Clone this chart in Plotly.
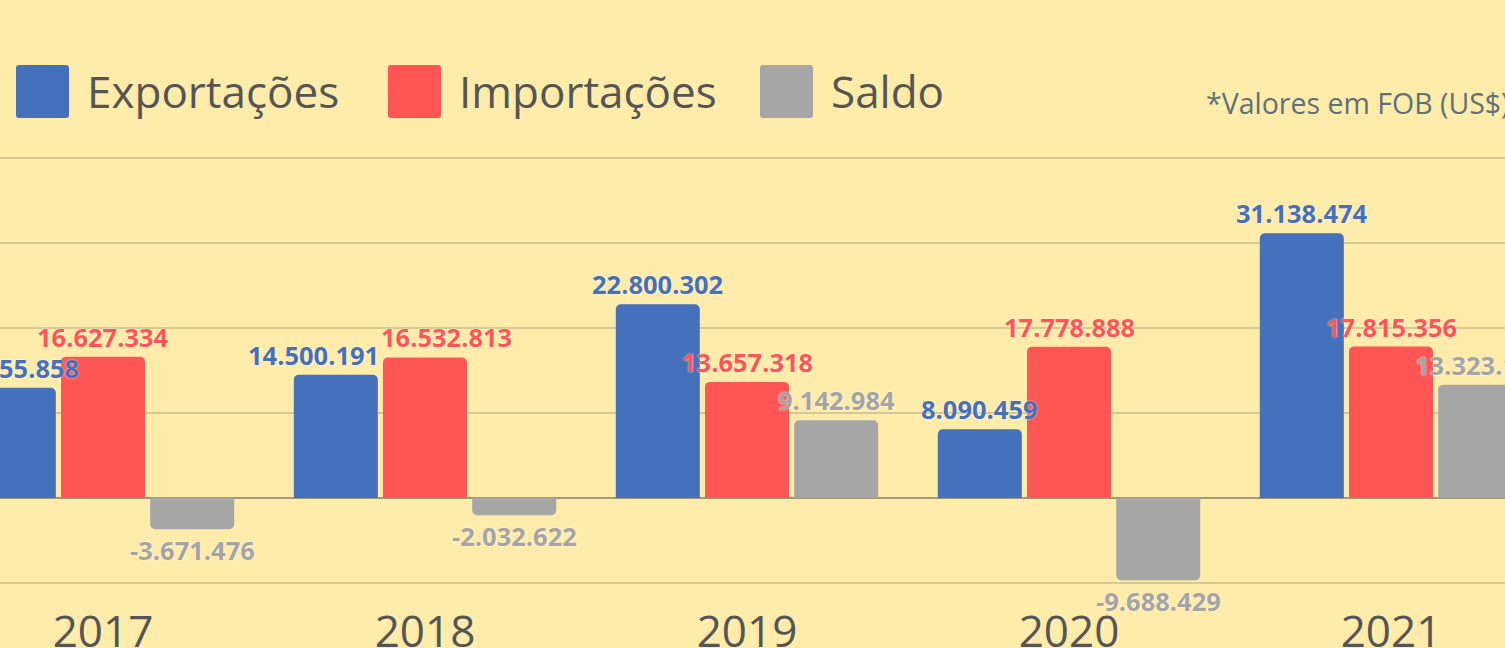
import plotly.graph_objects as go

# ---- data ----
anos = ["2017", "2018", "2019", "2020", "2021"]
exportacoes = [12955858, 14500191, 22800302, 8090459, 31138474]
importacoes = [16627334, 16532813, 13657318, 17778888, 17815356]
saldo = [-3671476, -2032622, 9142984, -9688429, 13323118]

series_names = ["Exportações", "Importações", "Saldo"]
bar_colors = ["#4470BC", "#FF5555", "#A6A6A6"]
label_colors = ["#4670BA", "#FF5555", "#A4A4A4"]
nota = "*Valores em FOB (US$)"

W, H = 1505, 648
M_T, M_B = 150, 46
FONT = "Open Sans"
BG = "#FFECAA"
LABEL_SIZE = 25.5
BARGAP = 0.169
BARGROUPGAP = 0.058
Y_RANGE = [-12.235e6, 40.94e6]
C0, STEP = 103, 322
X_RANGE = [-C0 / STEP, (W - C0) / STEP]


def fmt(v):
    return f"{v:,}".replace(",", ".")


all_series = [exportacoes, importacoes, saldo]

fig = go.Figure()
for name, vals, bc in zip(series_names, all_series, bar_colors):
    fig.add_trace(go.Bar(
        x=anos, y=vals, name=name,
        marker=dict(color=bc, line=dict(width=0)),
        showlegend=False,
        hovertemplate="%{x} " + name + ": %{y:,.0f}<extra></extra>",
    ))

plot_h = H - M_T - M_B


def py2paper(py):
    return (H - M_B - py) / plot_h


def px2paper(px):
    return px / W


def val2py(v):
    return M_T + (Y_RANGE[1] - v) / (Y_RANGE[1] - Y_RANGE[0]) * plot_h


def xd2px(xd):
    return (xd - X_RANGE[0]) / (X_RANGE[1] - X_RANGE[0]) * W


def text_w(s, size):
    w = 0
    for ch in s:
        w += 0.572 if ch.isdigit() else (0.28 if ch == "." else 0.32)
    return w * size


# ---- value labels with simple collision avoidance ----
slot = (1 - BARGAP) / 3
labels = []
for k, (vals, lc) in enumerate(zip(all_series, label_colors)):
    for i, v in enumerate(vals):
        xd = i + (k - 1) * slot
        s = fmt(v)
        bar_end = val2py(v)
        cy = bar_end - 17 if v >= 0 else bar_end + 17
        labels.append(dict(xd=xd, v=v, s=s, c=lc, cx=xd2px(xd), cy=cy,
                           w=text_w(s, LABEL_SIZE), shift=0.0))

LH = 0.9 * LABEL_SIZE
for _ in range(20):
    moved = False
    for a in range(len(labels)):
        for b in range(len(labels)):
            A, B = labels[a], labels[b]
            ax, bx = A["cx"] + A["shift"], B["cx"] + B["shift"]
            if a == b or ax > bx or (ax == bx and a > b):
                continue
            if abs(A["cy"] - B["cy"]) >= LH:
                continue
            ov = (A["w"] + B["w"]) / 2 + 2 - (bx - ax)
            if ov > 0.5:
                A["shift"] -= ov / 2
                B["shift"] += ov / 2
                moved = True
    if not moved:
        break

annotations = []
for L in labels:
    pos = L["v"] >= 0
    annotations.append(dict(
        x=L["xd"], y=L["v"], xref="x", yref="y", text=L["s"], showarrow=False,
        xanchor="center", yanchor="bottom" if pos else "top",
        xshift=L["shift"], yshift=1 if pos else -2,
        font=dict(family=FONT, size=LABEL_SIZE, color=L["c"], weight="bold",
                  shadow="0px 0px 2px rgba(255,255,255,0.9)"),
    ))


def rounded_rect(x0, y0, x1, y1, r):
    X = px2paper
    Y = py2paper
    return (f"M{X(x0 + r)},{Y(y0)} L{X(x1 - r)},{Y(y0)} Q{X(x1)},{Y(y0)} {X(x1)},{Y(y0 + r)} "
            f"L{X(x1)},{Y(y1 - r)} Q{X(x1)},{Y(y1)} {X(x1 - r)},{Y(y1)} "
            f"L{X(x0 + r)},{Y(y1)} Q{X(x0)},{Y(y1)} {X(x0)},{Y(y1 - r)} "
            f"L{X(x0)},{Y(y0 + r)} Q{X(x0)},{Y(y0)} {X(x0 + r)},{Y(y0)} Z")


# ---- large legend (decoration) ----
legend_sq_x = [16, 388, 760]
legend_txt_x = [85, 457, 829]
sq = 53
sq_top = 65
shapes = []
for name, c, sx, tx in zip(series_names, bar_colors, legend_sq_x, legend_txt_x):
    shapes.append(dict(type="path", xref="paper", yref="paper",
                       path=rounded_rect(sx, sq_top, sx + sq, sq_top + sq, 3),
                       fillcolor=c, line=dict(width=0)))
    annotations.append(dict(text=name, xref="paper", yref="paper",
                            x=px2paper(tx), y=py2paper(sq_top + sq / 2 - 1),
                            xanchor="left", yanchor="middle", showarrow=False,
                            font=dict(family=FONT, size=44, color="#555555")))

annotations.append(dict(text=nota, xref="paper", yref="paper",
                        x=px2paper(1204), y=py2paper(103),
                        xanchor="left", yanchor="middle", showarrow=False,
                        font=dict(family=FONT, size=28.5, color="#5F7279")))

fig.update_layout(
    width=W, height=H,
    margin=dict(l=0, r=0, t=M_T, b=M_B, pad=0, autoexpand=False),
    paper_bgcolor=BG, plot_bgcolor=BG,
    barmode="group", bargap=BARGAP, bargroupgap=BARGROUPGAP,
    barcornerradius=5,
    showlegend=False,
    font=dict(family=FONT, color="#555555"),
    xaxis=dict(type="category", range=X_RANGE, automargin=False,
               showgrid=False, showline=False, zeroline=False, ticks="",
               tickfont=dict(family=FONT, size=44, color="#555555"),
               ticklabelstandoff=0),
    yaxis=dict(range=Y_RANGE, dtick=10e6, tick0=0, automargin=False,
               showticklabels=False, ticks="",
               showgrid=True, gridcolor="#D6C894", gridwidth=2,
               zeroline=True, zerolinecolor="#A29A76", zerolinewidth=2,
               showline=False),
    shapes=shapes,
    annotations=annotations,
)

fig.write_html("out.html", config={"displayModeBar": False},
               post_script="document.body.style.margin='0px';")
